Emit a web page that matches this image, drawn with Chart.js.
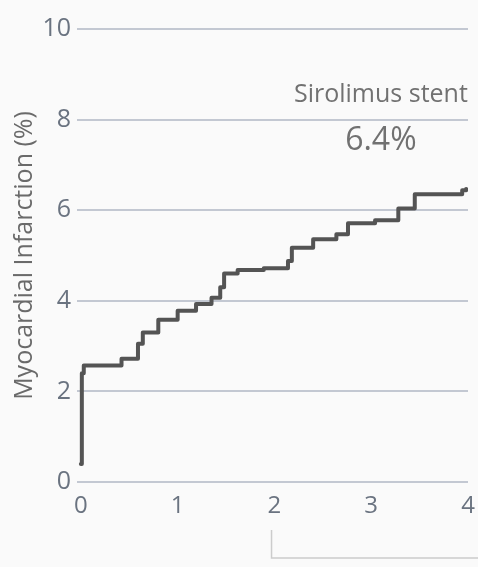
<!DOCTYPE html>
<html>
<head>
<meta charset="utf-8">
<script src="https://cdn.jsdelivr.net/npm/chart.js@4/dist/chart.umd.min.js"></script>
<style>
    html, body { margin: 0; padding: 0; background: #fafafa; }
    #wrap { position: relative; width: 478px; height: 567px; }
</style>
</head>
<body>
<div id="wrap"><canvas id="chartMi"></canvas></div>
<script>
(function () {
    "use strict";

    // years of follow-up where a step happens, and the cumulative MI (%) after it
    const years = [0, 0.01, 0.03, 0.42, 0.59, 0.64, 0.80, 1.00, 1.19, 1.35, 1.44, 1.48, 1.62, 1.89, 2.14, 2.18, 2.40, 2.64, 2.76, 3.04, 3.28, 3.45, 3.94, 3.98];
    const miRate = [0.4, 2.4, 2.57, 2.72, 3.05, 3.3, 3.58, 3.78, 3.93, 4.07, 4.3, 4.6, 4.68, 4.72, 4.88, 5.17, 5.36, 5.47, 5.71, 5.78, 6.04, 6.35, 6.44, 6.47];
    const xTicks = [0, 1, 2, 3, 4];
    const yTicks = [0, 2, 4, 6, 8, 10];
    const seriesName = "Sirolimus stent";
    const finalLabel = "6.4%";

    const palette = {
        line: "#545454",
        grid: "#c3c8d2",
        tick: "#6a7380",
        title: "#6a6a6a",
        note: "#717171",
        bracket: "#cccccc"
    };
    const font = "'Open Sans', 'Noto Sans', sans-serif";

    const notes = {
        id: "notes",
        afterDatasetsDraw(chart) {
            const { ctx, scales: { x, y } } = chart;
            ctx.save();
            ctx.fillStyle = palette.note;
            ctx.textAlign = "center";
            ctx.textBaseline = "middle";
            ctx.font = "25px " + font;
            ctx.fillText(seriesName, x.getPixelForValue(3.1), y.getPixelForValue(8.55));
            ctx.font = "32px " + font;
            ctx.fillText(finalLabel, x.getPixelForValue(3.1), y.getPixelForValue(7.52));

            // bracket under the x axis
            ctx.strokeStyle = palette.bracket;
            ctx.lineWidth = 1.5;
            ctx.beginPath();
            const bx = x.getPixelForValue(1.97);
            ctx.moveTo(bx, y.bottom + 48);
            ctx.lineTo(bx, y.bottom + 76);
            ctx.lineTo(chart.width, y.bottom + 76);
            ctx.stroke();
            ctx.restore();
        }
    };

    new Chart(document.getElementById("chartMi"), {
        type: "line",
        data: {
            datasets: [{
                label: seriesName,
                data: years.map((t, i) => ({ x: t, y: miRate[i] })),
                borderColor: palette.line,
                borderWidth: 4,
                stepped: true,
                pointRadius: 0,
                borderJoinStyle: "round",
                borderCapStyle: "round",
                fill: false
            }]
        },
        options: {
            responsive: true,
            maintainAspectRatio: false,
            animation: false,
            layout: { padding: { top: 29, right: 10, left: 0, bottom: 0 } },
            plugins: { legend: { display: false }, tooltip: { enabled: false } },
            scales: {
                x: {
                    type: "linear",
                    min: -0.04,
                    max: 4,
                    afterBuildTicks: (s) => { s.ticks = xTicks.map((v) => ({ value: v })); },
                    afterFit: (s) => { s.height = 85; },
                    grid: { display: false },
                    border: { display: false },
                    ticks: { color: palette.tick, padding: 2, font: { family: font, size: 24 }, maxRotation: 0 }
                },
                y: {
                    min: 0,
                    max: 10,
                    afterBuildTicks: (s) => { s.ticks = yTicks.map((v) => ({ value: v })); },
                    afterFit: (s) => { s.width = 77; },
                    grid: { color: palette.grid, lineWidth: 2, drawTicks: false },
                    border: { display: false },
                    ticks: { color: palette.tick, padding: 6, font: { family: font, size: 25 } },
                    title: {
                        display: true,
                        text: "Myocardial Infarction (%)",
                        color: palette.title,
                        font: { family: font, size: 25 },
                        padding: { top: 10, bottom: 0 }
                    }
                }
            }
        },
        plugins: [notes]
    });
})();
</script>
</body>
</html>
